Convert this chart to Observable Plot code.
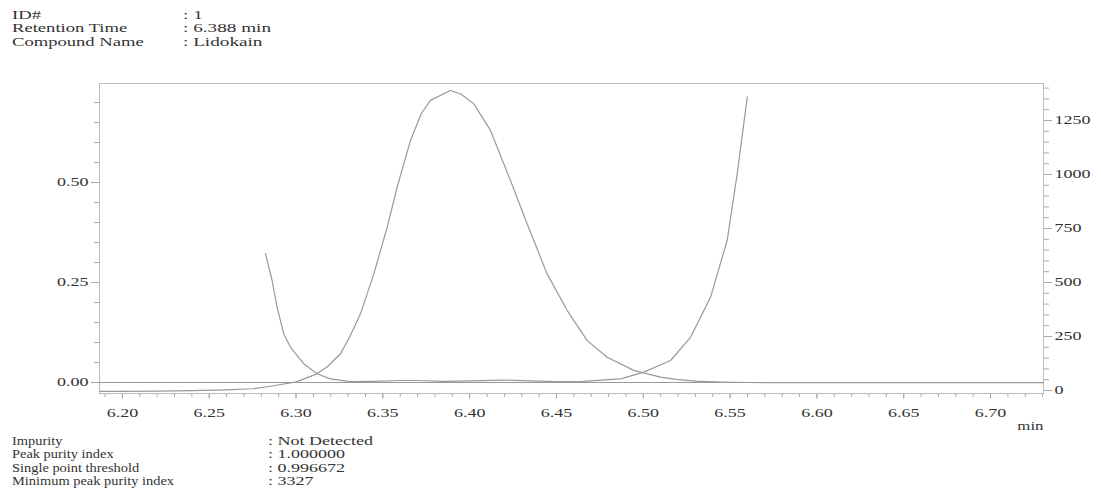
<!DOCTYPE html>
<html><head><meta charset="utf-8">
<script src="https://cdn.jsdelivr.net/npm/d3@7"></script>
<script src="https://cdn.jsdelivr.net/npm/@observablehq/plot@0.6"></script>
<style>
body{margin:0;background:#fff;}
#wrap{position:relative;width:1101px;height:493px;font-family:"Liberation Serif","Times New Roman",serif;color:#333;}
#wrap svg{position:absolute;left:0;top:0;}
.info{position:absolute;font-size:12px;line-height:13.3px;white-space:nowrap;}
.info div{position:relative;height:13.3px;}
.info span{position:absolute;top:0;transform-origin:left center;}
</style></head><body><div id="wrap"></div>
<script>
// ---- text data ----
const headerLabels = ["ID#", "Retention Time", "Compound Name"];
const headerValues = [": 1", ": 6.388 min", ": Lidokain"];
const footerLabels = ["Impurity", "Peak purity index", "Single point threshold", "Minimum peak purity index"];
const footerValues = [": Not Detected", ": 1.000000", ": 0.996672", ": 3327"];

// ---- axis ticks ----
const xMajor = [6.20, 6.25, 6.30, 6.35, 6.40, 6.45, 6.50, 6.55, 6.60, 6.65, 6.70];
const leftMajor = [0, 0.25, 0.50];
const rightMajor = [0, 250, 500, 750, 1000, 1250];
const xUnit = "min";

// ---- chromatogram (right axis units) ----
const chromTime = [6.187, 6.20, 6.22, 6.24, 6.26, 6.275, 6.287, 6.30, 6.305, 6.312, 6.318, 6.3256, 6.331, 6.3371, 6.3448, 6.3525, 6.3582, 6.3659, 6.372, 6.3774, 6.3889, 6.3947, 6.4024, 6.4120, 6.4235, 6.4331, 6.4446, 6.4562, 6.4677, 6.4792, 6.4945, 6.5099, 6.52, 6.53, 6.545, 6.56, 6.60, 6.65, 6.70, 6.7305];
const chromValue = [-4, -4, -3, -1, 3, 8, 22, 40, 55, 77, 110, 170, 250, 355, 540, 756, 941, 1157, 1280, 1343, 1389, 1374, 1327, 1204, 972, 772, 540, 370, 231, 154, 93, 62, 50, 43, 39, 37, 36, 36, 36, 36];

// ---- purity curve (left axis units) ----
const purityTime = [6.2824, 6.2862, 6.2891, 6.2929, 6.2968, 6.3044, 6.3121, 6.3198, 6.3313, 6.345, 6.36, 6.37, 6.385, 6.40, 6.42, 6.435, 6.45, 6.465, 6.4869, 6.5003, 6.5157, 6.5272, 6.5387, 6.5483, 6.5541, 6.5599];
const purityValue = [0.322, 0.255, 0.188, 0.122, 0.088, 0.047, 0.022, 0.009, 0.002, 0.003, 0.005, 0.005, 0.003, 0.004, 0.006, 0.004, 0.002, 0.003, 0.009, 0.026, 0.055, 0.113, 0.213, 0.355, 0.522, 0.714];

const thresholdLine = [0];

// right axis -> left axis mapping
const rOffset = -0.02, rFactor = 0.00054;
const toLeft = r => rOffset + r * rFactor;
const fromLeft = l => (l - rOffset) / rFactor;

const chrom = chromTime.map((t, i) => ({t, v: toLeft(chromValue[i])}));
const purity = purityTime.map((t, i) => ({t, p: purityValue[i]}));

const xMinor = d3.range(619, 674).map(d => d / 100);
const leftMinor = d3.range(0, 15).map(d => d * 0.05);
const rightMinor = d3.range(0, 29).map(d => toLeft(d * 50));

const axisStroke = "#aaa", textFill = "#333";

const svg = Plot.plot({
  width: 1101, height: 493,
  marginLeft: 99, marginRight: 58, marginTop: 83, marginBottom: 100,
  style: {fontFamily: "'Liberation Serif', serif", fontSize: "12px", color: textFill, background: "transparent", overflow: "visible"},
  x: {domain: [6.1868, 6.7305], label: null},
  y: {domain: [-0.0275, 0.7475], label: null},
  marks: [
    Plot.axisX({ticks: xMinor, tickFormat: () => "", tickSize: 4, stroke: axisStroke, label: null}),
    Plot.axisX({ticks: xMajor, tickFormat: d3.format(".2f"), tickSize: 6, tickPadding: 9, stroke: axisStroke, fill: textFill, label: null}),
    Plot.axisY({ticks: leftMinor, tickFormat: () => "", tickSize: 5, stroke: axisStroke, label: null}),
    Plot.axisY({ticks: leftMajor, tickFormat: d3.format(".2f"), tickSize: 8, tickPadding: 3, stroke: axisStroke, fill: textFill, label: null}),
    Plot.axisY({anchor: "right", ticks: rightMinor, tickFormat: () => "", tickSize: 5, stroke: axisStroke, label: null}),
    Plot.axisY({anchor: "right", ticks: rightMajor.map(toLeft), tickFormat: v => String(Math.round(fromLeft(v))), tickSize: 8, tickPadding: 3, stroke: axisStroke, fill: textFill, label: null}),
    Plot.frame({stroke: "#bbb"}),
    Plot.ruleY(thresholdLine, {stroke: "#999", strokeWidth: 1}),
    Plot.line(chrom, {x: "t", y: "v", stroke: "#999", strokeWidth: 1.2}),
    Plot.line(purity, {x: "t", y: "p", stroke: "#999", strokeWidth: 1.2}),
    Plot.text([xUnit], {frameAnchor: "bottom-right", dy: 33, textAnchor: "end", lineAnchor: "middle", fill: textFill})
  ]
});

const wrap = document.getElementById("wrap");
wrap.appendChild(svg);

// horizontal stretch of the tick labels, as in the reference
function stretch(sel, k) {
  svg.querySelectorAll(sel).forEach(t => {
    const len = t.getComputedTextLength();
    if (len > 0) {
      t.setAttribute("textLength", len * k);
      t.setAttribute("lengthAdjust", "spacingAndGlyphs");
    }
  });
}
stretch('g[aria-label="x-axis tick label"] text', 1.5);
stretch('g[aria-label="y-axis tick label"] text', 1.5);
stretch('g[aria-label="text"] text', 1.4);

function block(labels, values, left, valLeft, top, kl, kv) {
  const d = document.createElement("div");
  d.className = "info";
  d.style.left = left + "px";
  d.style.top = top + "px";
  labels.forEach((l, i) => {
    const row = document.createElement("div");
    const a = document.createElement("span");
    a.textContent = l; a.style.left = "0px"; a.style.transform = `scaleX(${kl})`;
    const b = document.createElement("span");
    b.textContent = values[i]; b.style.left = (valLeft - left) + "px"; b.style.transform = `scaleX(${kv})`;
    row.appendChild(a); row.appendChild(b); d.appendChild(row);
  });
  wrap.appendChild(d);
}
block(headerLabels, headerValues, 12, 183, 9, 1.55, 1.6);
block(footerLabels, footerValues, 12, 268, 435, 1.2, 1.5);
</script></body></html>
